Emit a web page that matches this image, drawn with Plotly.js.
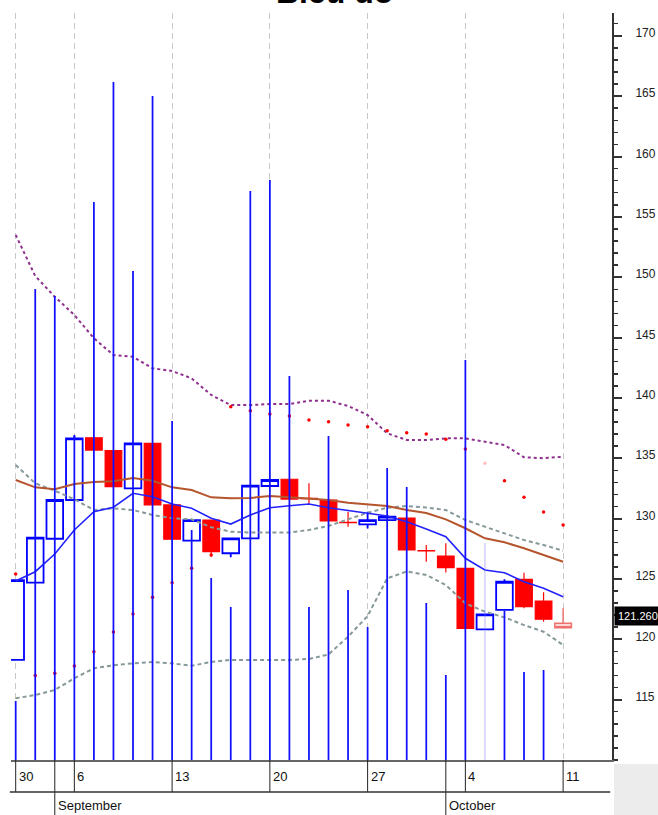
<!DOCTYPE html>
<html><head><meta charset="utf-8">
<script src="https://cdn.plot.ly/plotly-3.0.1.min.js"></script>
<style>html,body{margin:0;padding:0;background:#fff}#chart{width:658px;height:815px}</style>
</head><body><div id="chart"></div>
<script>
// ---- data ----
const dates = ['2021-08-30','2021-08-31','2021-09-01','2021-09-06','2021-09-07','2021-09-08','2021-09-09','2021-09-10',
  '2021-09-13','2021-09-14','2021-09-15','2021-09-16','2021-09-17','2021-09-20','2021-09-21','2021-09-22','2021-09-23','2021-09-24',
  '2021-09-27','2021-09-28','2021-09-29','2021-09-30','2021-10-01','2021-10-04','2021-10-05','2021-10-06','2021-10-07','2021-10-08','2021-10-11'];
const open  = [118.29,124.69,128.33,131.54,136.70,135.63,132.51,136.24,131.13,128.17,129.88,127.13,128.37,132.70,133.26,131.68,131.54,129.69,129.52,129.88,130.05,127.35,126.90,125.88,120.83,122.43,124.97,123.17,121.33];
const high  = [124.91,128.42,131.54,136.93,136.70,135.63,136.24,136.24,131.13,129.88,129.88,128.37,132.73,133.20,133.26,132.92,131.54,130.57,130.57,130.16,130.05,127.81,127.95,125.88,122.07,124.97,125.52,123.89,122.57];
const low   = [118.29,124.69,128.33,131.54,135.68,132.64,132.51,131.13,128.29,128.17,126.84,126.80,128.37,132.70,131.62,131.13,129.80,129.33,129.18,129.88,127.40,126.43,125.53,120.91,120.83,122.43,122.57,121.46,120.91];
const close = [124.91,128.42,131.54,136.65,135.68,132.64,136.24,131.13,128.29,129.88,127.26,128.37,132.73,133.20,131.62,131.66,129.80,129.67,129.88,130.16,127.40,127.33,125.93,120.91,122.07,124.77,122.70,121.66,120.95];
const volume = [590,4710,4640,3240,5580,6780,4890,6640,3390,2300,1820,1530,5690,5800,3840,1530,3240,1700,1330,2920,2730,1570,850,4000,2170,1490,880,900,0]; // thousand shares
const maShort = [124.83,125.60,127.07,129.06,130.57,130.94,132.10,131.81,131.21,130.85,130.03,129.55,130.30,130.90,131.07,131.21,130.90,130.65,130.44,130.22,129.74,129.14,128.50,126.71,125.74,125.52,124.77,124.23,123.53];
const maLong  = [133.20,132.59,132.43,132.87,133.03,133.09,133.36,133.14,132.59,132.37,131.76,131.68,131.71,131.87,131.76,131.68,131.54,131.32,131.21,131.04,130.71,130.46,129.94,129.20,128.37,128.04,127.54,126.98,126.43];
const bandUpper = [134.44,132.92,132.31,131.60,130.71,130.85,130.71,130.30,130.03,129.94,129.28,128.92,128.84,128.84,128.84,129.06,129.39,129.94,130.49,130.90,131.04,130.92,130.71,129.88,129.33,128.78,128.23,127.81,127.34];
const bandLower = [115.11,115.39,115.80,116.77,117.60,117.85,118.01,118.12,118.01,117.81,118.12,118.29,118.29,118.29,118.29,118.37,118.74,120.22,121.93,125.05,125.62,125.33,124.50,122.98,122.29,121.82,121.18,120.63,119.53];
const envUpper = [153.50,150.10,148.38,146.87,144.94,143.55,143.41,142.45,142.23,141.62,140.24,139.41,139.41,139.49,139.49,139.77,139.77,139.33,138.58,137.07,136.51,136.51,136.65,136.65,136.37,136.10,135.08,135.00,135.13];
const sar = [125.41,117.00,117.18,117.79,118.97,120.60,122.10,123.48,124.69,125.88,126.98,139.27,138.94,138.67,138.50,138.17,138.03,137.76,137.62,137.28,137.12,137.01,136.57,135.77,134.58,133.14,131.76,130.55,129.47];
const weekStarts = ['2021-08-30','2021-09-06','2021-09-13','2021-09-20','2021-09-27','2021-10-04','2021-10-11'];
const dayLabels = ['30','6','13','20','27','4','11'];
const monthStarts = ['2021-09-01','2021-10-01'];
const monthLabels = ['September','October'];
const yTicks = [115,120,125,130,135,140,145,150,155,160,165,170];
const lastPrice = 121.26;
const lastPriceText = '121.260';
const titleText = 'Biểu đồ';

// ---- build ----
const N = dates.length;
const xi = dates.map((d,i)=>i);
const weekIdx = weekStarts.map(d=>dates.indexOf(d));
const monthIdx = monthStarts.map(d=>dates.indexOf(d));
const sans = '"Liberation Sans",Arial,sans-serif';
const PH = 747;

const traces = [];
traces.push({type:'candlestick', x:xi.slice(0,N-1), open:open.slice(0,N-1), high:high.slice(0,N-1), low:low.slice(0,N-1), close:close.slice(0,N-1),
  increasing:{line:{color:'#0000ff',width:1.8}, fillcolor:'#ffffff'},
  decreasing:{line:{color:'#ff0000',width:1.2}, fillcolor:'#ff0000'}, whiskerwidth:0, hoverinfo:'skip'});
traces.push({type:'candlestick', x:xi.slice(N-1), open:open.slice(N-1), high:high.slice(N-1), low:low.slice(N-1), close:close.slice(N-1),
  increasing:{line:{color:'#f07070',width:1.5}, fillcolor:'#ffd6d6'},
  decreasing:{line:{color:'#f07070',width:1.5}, fillcolor:'#ffd6d6'}, whiskerwidth:0, hoverinfo:'skip'});
traces.push({type:'scatter', mode:'lines', x:xi, y:envUpper, line:{color:'#8e2f8e',width:2,dash:'3px,3px'}, hoverinfo:'skip'});
traces.push({type:'scatter', mode:'lines', x:xi, y:bandUpper, line:{color:'#86999a',width:2,dash:'4px,3px'}, hoverinfo:'skip'});
traces.push({type:'scatter', mode:'lines', x:xi, y:bandLower, line:{color:'#86999a',width:2,dash:'4px,3px'}, hoverinfo:'skip'});
traces.push({type:'scatter', mode:'lines', x:xi, y:maLong, line:{color:'#b5552e',width:2}, hoverinfo:'skip'});
traces.push({type:'scatter', mode:'lines', x:xi, y:maShort, line:{color:'#2222ff',width:1.6}, hoverinfo:'skip'});
traces.push({type:'scatter', mode:'markers', x:xi, y:sar, marker:{color:sar.map((v,i)=>i===24?'#ffc0c0':'#ff0000'), size:3.5, symbol:'circle'}, hoverinfo:'skip'});
traces.push({type:'bar', x:xi, y:volume, yaxis:'y2', width:0.09, marker:{color:volume.map((v,i)=>i===24?'rgba(120,120,255,0.3)':'#1010ff'), line:{width:0}}, hoverinfo:'skip'});

const shapes = [];
weekIdx.forEach(i=>shapes.push({type:'line', xref:'x', yref:'paper', x0:i, x1:i, y0:0, y1:-32/PH, line:{color:'#222',width:1}}));
monthIdx.forEach(i=>shapes.push({type:'line', xref:'x', yref:'paper', x0:i, x1:i, y0:0, y1:-60/PH, line:{color:'#222',width:1}}));
shapes.push({type:'line', xref:'paper', yref:'paper', x0:-0.002, x1:0.997, y0:-32/PH, y1:-32/PH, line:{color:'#333',width:1.5}});
shapes.push({type:'rect', xref:'paper', yref:'paper', x0:1+2/601, x1:1+50/601, y0:-4/PH, y1:-62/PH, fillcolor:'#ececec', line:{width:0}});

const annotations = [];
weekIdx.forEach((i,k)=>annotations.push({xref:'x', yref:'paper', x:i, xanchor:'left', xshift:1, y:-16/PH, yanchor:'middle', text:dayLabels[k], showarrow:false, font:{family:sans,size:13,color:'#111'}}));
monthIdx.forEach((i,k)=>annotations.push({xref:'x', yref:'paper', x:i, xanchor:'left', xshift:1, y:-45/PH, yanchor:'middle', text:monthLabels[k], showarrow:false, font:{family:sans,size:13,color:'#111'}}));
annotations.push({xref:'paper', yref:'y', x:1, xanchor:'left', xshift:2, y:lastPrice, yshift:8, yanchor:'middle', text:lastPriceText, showarrow:false, bgcolor:'#000', borderpad:3, font:{family:sans,size:11,color:'#fff'}});
annotations.push({xref:'paper', yref:'paper', x:(334-11)/601, xanchor:'center', y:1+21/PH, yanchor:'middle', text:'<b>'+titleText+'</b>', showarrow:false, font:{family:sans,size:32,color:'#000'}});

const layout = {
  width:658, height:815, margin:{l:11,r:46,t:13,b:55,pad:0}, paper_bgcolor:'#fff', plot_bgcolor:'#fff',
  showlegend:false, hovermode:false, boxgap:0.15, boxgroupgap:0,
  xaxis:{range:[-0.24,30.5], tickvals:weekIdx, showticklabels:false, ticks:'', showgrid:true, gridcolor:'#c8c8c8', griddash:'6px,4px', gridwidth:1,
    showline:true, linecolor:'#666', linewidth:2, zeroline:false, rangeslider:{visible:false}, fixedrange:true},
  yaxis:{side:'right', range:[110,171.89], tickvals:yTicks, ticks:'outside', ticklen:8, tickwidth:2, tickcolor:'#333',
    showline:true, linecolor:'#333', linewidth:2, showgrid:false, zeroline:false, ticklabelstandoff:11, ticklabelshift:-3,
    tickfont:{family:sans,size:12,color:'#222'},
    minor:{tickmode:'linear', tick0:110, dtick:1, ticks:'outside', ticklen:4, tickwidth:1.5, tickcolor:'#333', showgrid:false}, fixedrange:true},
  yaxis2:{overlaying:'y', range:[0,7470], visible:false, fixedrange:true},
  shapes:shapes, annotations:annotations
};
Plotly.newPlot('chart', traces, layout, {staticPlot:true, displayModeBar:false});
</script></body></html>
